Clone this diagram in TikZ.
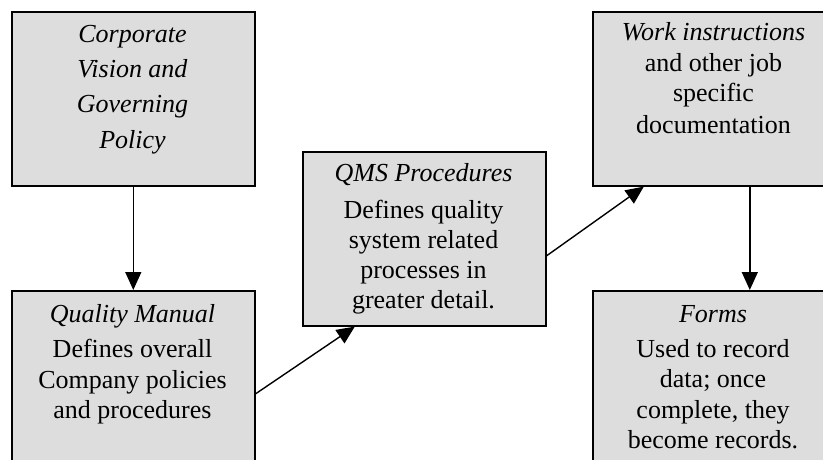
\documentclass[tikz,border=0pt]{standalone}
\usepackage{fontspec}
\setmainfont{Liberation Serif}
\usetikzlibrary{arrows.meta}
\definecolor{boxfill}{HTML}{DDDDDD}
\tikzset{
  box/.style={draw=black, fill=boxfill, line width=1.6pt, rectangle, inner sep=0pt,
    minimum width=243pt, minimum height=174pt, anchor=north west},
  txt/.style={anchor=base, inner sep=0pt, font=\fontsize{26}{30}\selectfont},
  ttl/.style={txt, font=\fontsize{26}{30}\selectfont\itshape},
  conn/.style={draw=black, line width=1.4pt, -{Triangle[width=16pt,length=18pt]}}
}
\begin{document}
\begin{tikzpicture}[x=1pt,y=-1pt]
\useasboundingbox (0,0) rectangle (823,460);
\clip (0,0) rectangle (823,460);
\fill[white] (0,0) rectangle (823,460);
% boxes
\node[box] (cv) at (11,11) {};
\node[box] (qm) at (11,290) {};
\node[box] (qms) at (302,151) {};
\node[box] (wi) at (592,11) {};
\node[box] (fm) at (592,290) {};
% Corporate vision
\node[ttl] (cv1) at (132.5,43) {Corporate};
\node[ttl] (cv2) at (132.5,78) {Vision and};
\node[ttl] (cv3) at (132.5,113) {Governing};
\node[ttl] (cv4) at (132.5,148) {Policy};
% Quality manual
\node[ttl] (qm1) at (132.5,322) {Quality Manual};
\node[txt] (qm2) at (132.5,357) {Defines overall};
\node[txt] (qm3) at (132.5,388) {Company policies};
\node[txt] (qm4) at (132.5,418) {and procedures};
% QMS procedures
\node[ttl] (qms1) at (423.5,182) {QMS Procedures};
\node[txt] (qms2) at (423.5,218) {Defines quality};
\node[txt] (qms3) at (423.5,248) {system related};
\node[txt] (qms4) at (423.5,278) {processes in};
\node[txt] (qms5) at (423.5,308) {greater detail.};
% Work instructions
\node[ttl] (wi1) at (713.5,41) {Work instructions};
\node[txt] (wi2) at (713.5,72) {and other job};
\node[txt] (wi3) at (713.5,102) {specific};
\node[txt] (wi4) at (713.5,133) {documentation};
% Forms
\node[ttl] (fm1) at (713,322) {Forms};
\node[txt] (fm2) at (713,357) {Used to record};
\node[txt] (fm3) at (713,387) {data; once};
\node[txt] (fm4) at (713,418) {complete, they};
\node[txt] (fm5) at (713,448) {become records.};
% connectors
\draw[conn] (cv.south) -- (qm.north);
\draw[conn] ([yshift=-16pt]qm.east) -- ([xshift=-69.5pt]qms.south);
\draw[conn] ([yshift=-17pt]qms.east) -- ([xshift=-70.5pt]wi.south);
\draw[conn] ([xshift=35.5pt]wi.south) -- ([xshift=35.5pt]fm.north);
\end{tikzpicture}
\end{document}
